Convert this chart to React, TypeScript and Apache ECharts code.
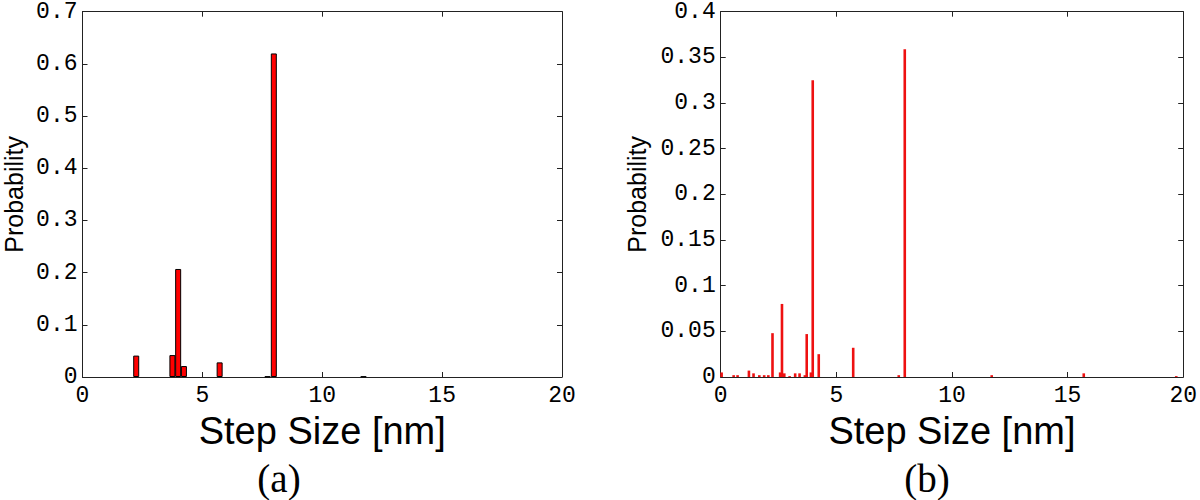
import React, { useEffect, useRef } from "react";
import * as echarts from "echarts";

// Panel (a): histogram bins (step size in nm) and probabilities
const stepsA = [2.24, 3.75, 3.99, 4.23, 5.72, 7.72, 7.98, 11.72];
const probA = [0.041, 0.042, 0.207, 0.021, 0.028, 0.001, 0.62, 0.001];

// Panel (b): fine histogram bins
const stepsB = [
  0.04, 0.56, 0.73, 1.22, 1.42, 1.67, 1.88, 2.06, 2.24, 2.57, 2.65, 2.75, 2.98,
  3.22, 3.41, 3.64, 3.72, 3.9, 3.98, 4.24, 5.73, 7.7, 7.96, 11.72, 15.7, 19.7,
];
const probB = [
  0.005, 0.002, 0.002, 0.007, 0.004, 0.002, 0.002, 0.002, 0.048, 0.005, 0.08,
  0.004, 0.001, 0.004, 0.004, 0.002, 0.047, 0.005, 0.325, 0.025, 0.032, 0.002,
  0.359, 0.002, 0.004, 0.001,
];

const xTicks = { min: 0, max: 20, interval: 5 };
const yA = { min: 0, max: 0.7, interval: 0.1 };
const yB = { min: 0, max: 0.4, interval: 0.05 };

const xTitle = "Step Size [nm]";
const yTitle = "Probability";
const captions = ["(a)", "(b)"];

const MONO = "'Liberation Mono', 'DejaVu Sans Mono', monospace";
const SANS = "'Liberation Sans', Arial, sans-serif";
const SERIF = "'Liberation Serif', 'Times New Roman', serif";
const AX = "#222";

const fmt = (v: number) => (v === 0 ? "0" : String(parseFloat(v.toFixed(2))));

function xAxes(gridIndex: number) {
  const common = {
    type: "value",
    gridIndex,
    ...xTicks,
    splitLine: { show: false },
    axisLine: { show: true, onZero: false, lineStyle: { color: AX, width: 1 } },
    axisTick: { show: true, inside: true, length: 5, lineStyle: { color: AX } },
  };
  return [
    {
      ...common,
      position: "bottom",
      name: xTitle,
      nameLocation: "middle",
      nameGap: 20,
      nameTextStyle: { fontFamily: SANS, fontSize: 38, color: "#000" },
      axisLabel: { fontFamily: MONO, fontSize: 23, color: "#000", margin: 7, formatter: fmt },
    },
    { ...common, position: "top", axisLabel: { show: false } },
  ];
}

function yAxes(gridIndex: number, range: any, nameGap: number) {
  const common = {
    type: "value",
    gridIndex,
    ...range,
    splitLine: { show: false },
    axisLine: { show: true, onZero: false, lineStyle: { color: AX, width: 1 } },
    axisTick: { show: true, inside: true, length: 5, lineStyle: { color: AX } },
  };
  return [
    {
      ...common,
      position: "left",
      name: yTitle,
      nameLocation: "middle",
      nameGap,
      nameTextStyle: { fontFamily: SANS, fontSize: 25, color: "#000" },
      axisLabel: { fontFamily: MONO, fontSize: 23, color: "#000", margin: 5, formatter: fmt },
    },
    { ...common, position: "right", axisLabel: { show: false } },
  ];
}

export default function App() {
  const ref = useRef<HTMLDivElement>(null);
  useEffect(() => {
    if (!ref.current) return;
    const chart = echarts.init(ref.current, null, { renderer: "svg" });
    chart.setOption({
      animation: false,
      backgroundColor: "#fff",
      grid: [
        { left: 82.5, top: 11.7, width: 479.5, height: 365.3 },
        { left: 720.7, top: 11.7, width: 464.3, height: 365.3 },
      ],
      xAxis: [...xAxes(0), ...xAxes(1)],
      yAxis: [...yAxes(0, yA, 56), ...yAxes(1, yB, 71)],
      series: [
        {
          type: "bar",
          xAxisIndex: 0,
          yAxisIndex: 0,
          barWidth: 6,
          data: stepsA.map((x, i) => [x, probA[i]]),
          itemStyle: { color: "#ff0000", borderColor: "#000", borderWidth: 1 },
        },
        {
          type: "bar",
          xAxisIndex: 2,
          yAxisIndex: 2,
          barWidth: 2.6,
          data: stepsB.map((x, i) => [x, probB[i]]),
          itemStyle: { color: "#ee1111" },
        },
      ],
      graphic: [
        {
          type: "text",
          x: 279,
          y: 478,
          style: {
            text: captions[0],
            font: `39px ${SERIF}`,
            fill: "#000",
            align: "center",
            verticalAlign: "middle",
          },
        },
        {
          type: "text",
          x: 927,
          y: 478,
          style: {
            text: captions[1],
            font: `39px ${SERIF}`,
            fill: "#000",
            align: "center",
            verticalAlign: "middle",
          },
        },
      ],
    });
    return () => chart.dispose();
  }, []);
  return (
    <div
      ref={ref}
      style={{ position: "fixed", left: 0, top: 0, width: 1200, height: 500 }}
    />
  );
}
